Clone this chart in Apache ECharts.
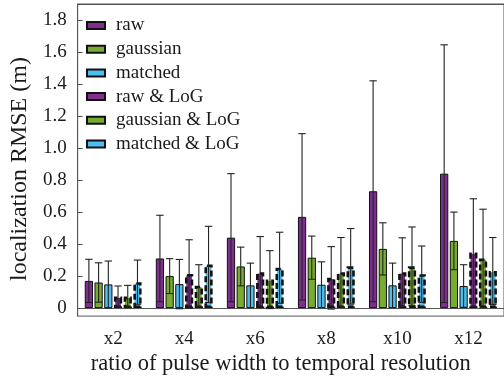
<!DOCTYPE html>
<html>
<head>
<meta charset="utf-8">
<script src="https://cdn.jsdelivr.net/npm/echarts@6/dist/echarts.min.js"></script>
<style>
  html, body { margin: 0; padding: 0; background: #fff; }
  #chart { width: 504px; height: 381px; }
</style>
</head>
<body>
<div id="chart"></div>
<script>
// data
const categories = ['x2', 'x4', 'x6', 'x8', 'x10', 'x12']
const seriesNames = ['raw', 'gaussian', 'matched', 'raw & LoG', 'gaussian & LoG', 'matched & LoG']
const rawMean = [0.17, 0.31, 0.44, 0.57, 0.73, 0.84]
const rawErr = [0.135, 0.27, 0.40, 0.52, 0.69, 0.805]
const gaussMean = [0.16, 0.20, 0.26, 0.315, 0.37, 0.42]
const gaussErr = [0.123, 0.109, 0.121, 0.135, 0.163, 0.18]
const matchedMean = [0.148, 0.15, 0.142, 0.146, 0.142, 0.138]
const matchedErr = [0.146, 0.154, 0.139, 0.143, 0.139, 0.133]
const rawLogMean = [0.072, 0.213, 0.224, 0.189, 0.224, 0.347]
const rawLogErr = [0.066, 0.214, 0.223, 0.195, 0.215, 0.336]
const gaussLogMean = [0.072, 0.14, 0.178, 0.224, 0.261, 0.31]
const gaussLogErr = [0.07, 0.131, 0.181, 0.217, 0.246, 0.308]
const matchedLogMean = [0.162, 0.273, 0.252, 0.261, 0.212, 0.232]
const matchedLogErr = [0.138, 0.238, 0.222, 0.236, 0.176, 0.209]
const yTicks = [0, 0.2, 0.4, 0.6, 0.8, 1.0, 1.2, 1.4, 1.6, 1.8]

const means = [rawMean, gaussMean, matchedMean, rawLogMean, gaussLogMean, matchedLogMean]
const errs = [rawErr, gaussErr, matchedErr, rawLogErr, gaussLogErr, matchedLogErr]
const colors = ['#7E2F8E', '#77AC30', '#4DBEEE', '#7E2F8E', '#77AC30', '#4DBEEE']

const FONT = "'Liberation Serif', 'Times New Roman', serif"
const AXIS = '#555'
const TXT = '#1a1a1a'
const CAT_GAP = 0.2, BAR_GAP = 0.18

const chart = echarts.init(document.getElementById('chart'))

const barSeries = seriesNames.map((name, j) => {
  const dashed = j >= 3
  return {
    name: name,
    type: 'bar',
    xAxisIndex: 0,
    data: means[j],
    barCategoryGap: (CAT_GAP * 100) + '%',
    barGap: (BAR_GAP * 100) + '%',
    itemStyle: {
      color: colors[j],
      borderColor: '#111',
      borderWidth: dashed ? 2.6 : 1,
      borderType: dashed ? [6, 3] : 'solid'
    },
    emphasis: { disabled: true }
  }
})

// error bars: [category, series, low, high]
const errData = []
means.forEach((m, j) => {
  m.forEach((v, i) => {
    errData.push([i, j, v - errs[j][i], v + errs[j][i]])
  })
})

const errSeries = {
  type: 'custom',
  xAxisIndex: 0,
  z: 5,
  silent: true,
  data: errData,
  encode: { x: 0, y: [2, 3] },
  renderItem: function (params, api) {
    const cat = api.value(0), j = api.value(1)
    const B = api.size([1, 0])[0]
    const n = seriesNames.length
    const w = B * (1 - CAT_GAP) / (n + (n - 1) * BAR_GAP)
    const cx = api.coord([cat, 0])[0] - B * (1 - CAT_GAP) / 2 + w / 2 + j * w * (1 + BAR_GAP)
    const yLo = api.coord([cat, api.value(2)])[1]
    const yHi = api.coord([cat, api.value(3)])[1]
    const c = w * 0.45
    const st = { stroke: '#222', lineWidth: 1.1 }
    return {
      type: 'group',
      children: [
        { type: 'line', shape: { x1: cx, y1: yLo, x2: cx, y2: yHi }, style: st },
        { type: 'line', shape: { x1: cx - c, y1: yHi, x2: cx + c, y2: yHi }, style: st },
        { type: 'line', shape: { x1: cx - c, y1: yLo, x2: cx + c, y2: yLo }, style: st }
      ]
    }
  }
}

const option = {
  animation: false,
  textStyle: { fontFamily: FONT },
  grid: {
    left: 67, right: -9, top: 4, bottom: 62,
    show: true, borderColor: AXIS, borderWidth: 1
  },
  legend: {
    data: seriesNames,
    orient: 'vertical',
    left: 86, top: 16,
    padding: 0,
    itemWidth: 18, itemHeight: 7,
    itemGap: 4.7,
    icon: 'rect',
    selectedMode: false,
    textStyle: { fontFamily: FONT, fontSize: 19, color: TXT, padding: [0, 0, 0, 6] }
  },
  xAxis: [
    {
      type: 'category',
      data: categories,
      position: 'bottom',
      axisLine: { lineStyle: { color: AXIS } },
      axisTick: { inside: true, alignWithLabel: true, length: 4, lineStyle: { color: AXIS } },
      axisLabel: { fontFamily: FONT, fontSize: 19, color: TXT, margin: 13 },
      name: 'ratio of pulse width to temporal resolution',
      nameLocation: 'middle',
      nameGap: 30,
      nameTextStyle: { fontFamily: FONT, fontSize: 22.5, color: TXT, padding: [0, 20, 0, 0] }
    },
    {
      type: 'category',
      data: categories,
      position: 'top',
      axisLine: { lineStyle: { color: AXIS } },
      axisTick: { inside: true, alignWithLabel: true, length: 4, lineStyle: { color: AXIS } },
      axisLabel: { show: false }
    }
  ],
  yAxis: {
    type: 'value',
    min: -0.05,
    max: 1.9,
    splitLine: { show: false },
    axisLine: { show: true, lineStyle: { color: AXIS } },
    axisTick: { show: true, inside: true, length: 5, customValues: yTicks, lineStyle: { color: AXIS } },
    axisLabel: {
      fontFamily: FONT, fontSize: 19, color: TXT, margin: 11,
      customValues: yTicks,
      formatter: v => (Math.abs(v) < 1e-9 ? '0' : v.toFixed(1))
    },
    name: 'localization RMSE (m)',
    nameLocation: 'middle',
    nameGap: 35,
    nameTextStyle: { fontFamily: FONT, fontSize: 24, color: TXT, padding: [0, 18, 0, 0] }
  },
  series: [...barSeries, errSeries]
}

chart.setOption(option)
</script>
</body>
</html>
